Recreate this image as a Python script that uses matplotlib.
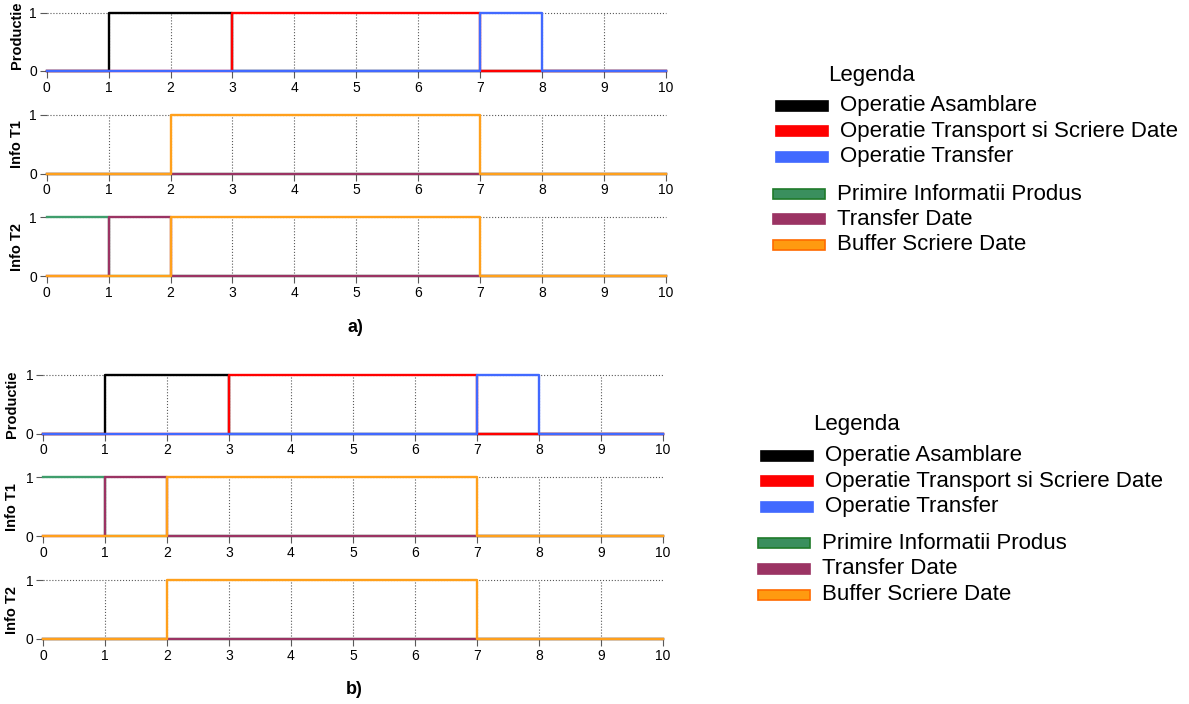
import matplotlib.pyplot as plt
from matplotlib.patches import Rectangle

plt.rcParams['font.family'] = ['Liberation Sans', 'DejaVu Sans']

# value of each signal on the unit intervals [0,1), [1,2), ... [9,10)
x_steps = list(range(11))
x_ticks = list(range(11))
y_ticks = [0, 1]

asamblare = [0, 1, 1, 0, 0, 0, 0, 0, 0, 0]
transport = [0, 0, 0, 1, 1, 1, 1, 0, 0, 0]
transfer = [0, 0, 0, 0, 0, 0, 0, 1, 0, 0]

# info tracks: "wait" = only buffer, "recv" = receives product info first
primire_wait = [0, 0, 0, 0, 0, 0, 0, 0, 0, 0]
tdate_wait = [0, 0, 0, 0, 0, 0, 0, 0, 0, 0]
buffer_wait = [0, 0, 1, 1, 1, 1, 1, 0, 0, 0]

primire_recv = [1, 0, 0, 0, 0, 0, 0, 0, 0, 0]
tdate_recv = [0, 1, 0, 0, 0, 0, 0, 0, 0, 0]
buffer_recv = [0, 0, 1, 1, 1, 1, 1, 0, 0, 0]

row_labels = ['Productie', 'Info T1', 'Info T2']

c_black, c_red, c_blue = '#000000', '#ff0000', '#4169ff'
c_green, c_purple, c_orange = '#3f9e6c', '#9b3363', '#ffa01c'

prod_series = [(asamblare, c_black), (transport, c_red), (transfer, c_blue)]
wait_series = [(primire_wait, c_green), (tdate_wait, c_purple), (buffer_wait, c_orange)]
recv_series = [(primire_recv, c_green), (tdate_recv, c_purple), (buffer_recv, c_orange)]

legend_ops = ['Operatie Asamblare', 'Operatie Transport si Scriere Date', 'Operatie Transfer']
legend_info = ['Primire Informatii Produs', 'Transfer Date', 'Buffer Scriere Date']

W, H = 1189, 704
fig = plt.figure(figsize=(W / 100, H / 100), dpi=100)


def add_ax(left, right, top, bottom):
    return fig.add_axes([left / W, 1 - bottom / H, (right - left) / W, (bottom - top) / H])


def draw_panel(ax, series, label, label_x, label_y=0.5):
    ax.set_xlim(0, 10)
    ax.set_ylim(0, 1)
    for s in ax.spines.values():
        s.set_visible(False)
    ax.set_xticks(x_ticks)
    ax.set_yticks(y_ticks)
    ax.tick_params(length=5, width=0.8, color='0.35', labelsize=10, pad=2)
    ax.vlines(x_ticks[1:-1], 0, 1, colors='0.35', linestyles=':', lw=0.8, zorder=1, clip_on=False)
    ax.hlines(1, 0, 10, colors='0.35', linestyles=':', lw=0.8, zorder=1, clip_on=False)
    for vals, col in series:
        ax.step(x_steps, vals + [vals[-1]], where='post', color=col, lw=1.7,
                clip_on=False, zorder=3)
    ax.set_ylabel(label, fontweight='bold', fontsize=10.5)
    ax.yaxis.set_label_coords(label_x, label_y)


def draw_legend(title_xy, patch_x, text_x, ys):
    fig.text(title_xy[0] / W, 1 - title_xy[1] / H, 'Legenda', fontsize=16,
             ha='left', va='center')
    items = [(legend_ops[0], c_black, None), (legend_ops[1], c_red, None),
             (legend_ops[2], c_blue, None), (legend_info[0], '#3a8f5e', '#1f7a2a'),
             (legend_info[1], '#9b3363', None), (legend_info[2], '#ff9a10', '#ff6a00')]
    for i, (txt, fc, ec) in enumerate(items):
        y = ys[i]
        if i < 3:
            x0, tx = patch_x, text_x
        else:
            x0, tx = patch_x - 3, text_x - 3
        rect = Rectangle((x0 / W, 1 - (y + 5) / H), 52 / W, 10 / H,
                         transform=fig.transFigure, facecolor=fc,
                         edgecolor=ec if ec else fc, lw=1.2)
        fig.add_artist(rect)
        fig.text(tx / W, 1 - y / H, txt, fontsize=16, ha='left', va='center')


# group a)
rows_a = [(12.7, 71), (115, 173.7), (217.3, 276)]
for k, ((top, bot), lab, ser) in enumerate(zip(rows_a, row_labels, [prod_series, wait_series, recv_series])):
    ax = add_ax(46.7, 665.7, top, bot)
    draw_panel(ax, ser, lab, -0.036, 0.62 if k == 0 else 0.5)

# group b)
rows_b = [(375, 433.7), (477.3, 536), (580, 639)]
for (top, bot), lab, ser in zip(rows_b, row_labels, [prod_series, recv_series, wait_series]):
    ax = add_ax(43, 662.7, top, bot)
    draw_panel(ax, ser, lab, -0.038)

fig.text(355 / W, 1 - 328 / H, 'a)', fontsize=13, fontweight='bold', ha='center', va='center')
fig.text(354 / W, 1 - 689.5 / H, 'b)', fontsize=13, fontweight='bold', ha='center', va='center')

draw_legend((828, 75), 776, 840, [105.7, 131, 156.7, 194, 219.3, 245])
draw_legend((813, 425), 761, 825, [455.7, 481, 506.7, 543.3, 569, 595])

fig.savefig('out.png', dpi=100)
